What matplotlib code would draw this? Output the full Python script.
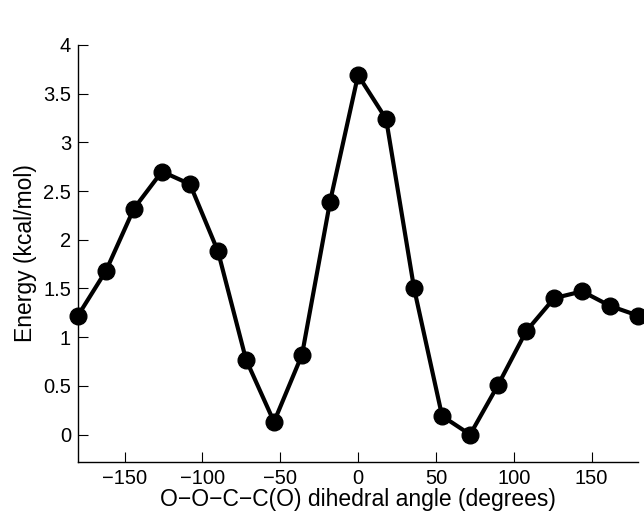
import numpy as np
import matplotlib
matplotlib.use("Agg")
import matplotlib.pyplot as plt
from matplotlib.ticker import FuncFormatter

# dihedral scan, energies
angle = [-180, -162, -144, -126, -108, -90, -72, -54, -36, -18, 0,
         18, 36, 54, 72, 90, 108, 126, 144, 162, 180]
energy = [1.22, 1.68, 2.32, 2.70, 2.57, 1.88, 0.77, 0.13, 0.82, 2.39, 3.69,
          3.24, 1.50, 0.19, 0.00, 0.51, 1.06, 1.40, 1.47, 1.32, 1.22]
xticks = [-150, -100, -50, 0, 50, 100, 150]
yticks = [0, 0.5, 1, 1.5, 2, 2.5, 3, 3.5, 4]

plt.rcParams['font.family'] = ['Liberation Sans', 'DejaVu Sans']

fig = plt.figure(figsize=(6.44, 5.16), dpi=100)
ax = fig.add_axes([0.121, 0.105, 0.870, 0.808])

ax.plot(angle, energy, color='black', lw=3.0, marker='o', ms=12,
        clip_on=False, zorder=3)

ax.set_xlim(-180, 180)
ax.set_ylim(-0.28, 4)
ax.set_xticks(xticks)
ax.set_yticks(yticks)
ax.yaxis.set_major_formatter(FuncFormatter(lambda v, p: f"{v:g}"))

for s in ['top', 'right']:
    ax.spines[s].set_visible(False)
for s in ['left', 'bottom']:
    ax.spines[s].set_linewidth(1.0)
ax.tick_params(direction='in', length=7, width=0.8, labelsize=14.5, pad=5)

ax.set_xlabel('O\u2212O\u2212C\u2212C(O) dihedral angle (degrees)', fontsize=16.5, labelpad=0)
ax.set_ylabel('Energy (kcal/mol)', fontsize=16.5, labelpad=4)

fig.savefig('out.png', dpi=100)
